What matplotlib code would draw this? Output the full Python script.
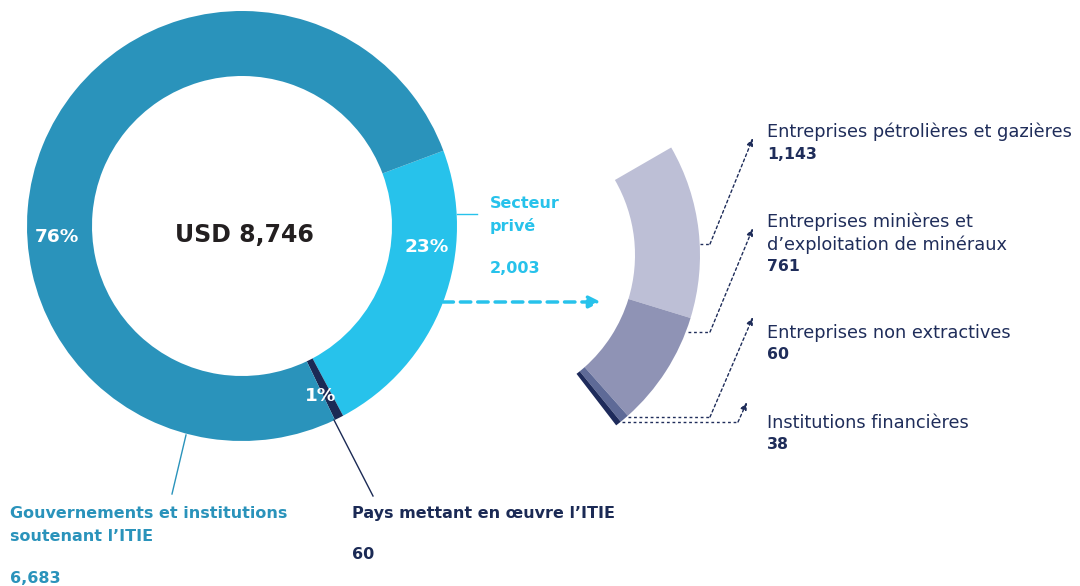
import matplotlib.pyplot as plt

# data
main_labels = ["Secteur privé", "Pays mettant en œuvre l'ITIE", "Gouvernements et institutions soutenant l'ITIE"]
main_values = [2003, 60, 6683]
main_pct = ["23%", "1%", "76%"]
total = 8746

sub_labels = ["Entreprises pétrolières et gazières",
              "Entreprises minières et\nd\u2019exploitation de minéraux",
              "Entreprises non extractives",
              "Institutions financières"]
sub_values = [1143, 761, 60, 38]

# colours
c_gov = "#2A93BB"
c_priv = "#27C2EB"
c_pays = "#1B2A55"
c_navy = "#1F2D5A"
sub_colors = ["#BDBFD6", "#8F93B5", "#5E6A97", "#1E2B5B"]

W, H = 1080, 586
def Y(y):
    return H - y

plt.rcParams['font.family'] = ['DejaVu Sans']

fig = plt.figure(figsize=(10.8, 5.86), dpi=100)
ax = fig.add_axes([0, 0, 1, 1])

# main donut
ax.pie(main_values, colors=[c_priv, c_pays, c_gov], startangle=20.5, counterclock=False,
       center=(242, Y(226)), radius=215, wedgeprops=dict(width=65, linewidth=0))

# exploded private sector breakdown (partial ring, same scale as main donut)
ax.pie([v / total for v in sub_values], normalize=False, colors=sub_colors, startangle=30,
       counterclock=False, center=(485, Y(255)), radius=215, wedgeprops=dict(width=65, linewidth=0))

ax.set_xlim(0, W)
ax.set_ylim(0, H)
ax.set_aspect('equal')
ax.axis('off')

def lines(x, y0, txt, step, **kw):
    for i, ln in enumerate(txt.split("\n")):
        ax.text(x, Y(y0 + step * i), ln, ha="left", va="baseline", **kw)

# percentages and centre total
pct_kw = dict(color="white", fontsize=13.3, fontweight="bold", ha="center", va="baseline")
ax.text(427, Y(252), main_pct[0], **pct_kw)
ax.text(321, Y(401), main_pct[1], **pct_kw)
ax.text(57, Y(242), main_pct[2], **pct_kw)
ax.text(244, Y(242), "USD {:,}".format(total), color="#231F20", fontsize=17, fontweight="bold",
        ha="center", va="baseline")

# leader lines of the main donut
ax.plot([457, 477], [Y(214), Y(214)], color=c_priv, lw=1)
ax.plot([186, 172], [Y(435), Y(494)], color=c_gov, lw=1)
ax.plot([334, 373], [Y(420), Y(496)], color=c_pays, lw=1)

bold = dict(fontsize=11.5, fontweight="bold")
lines(490, 208, "Secteur\nprivé", 23, color=c_priv, **bold)
lines(490, 273, "{:,}".format(main_values[0]), 0, color=c_priv, **bold)

lines(10, 518, "Gouvernements et institutions\nsoutenant l\u2019ITIE", 23, color=c_gov, **bold)
lines(10, 583, "{:,}".format(main_values[2]), 0, color=c_gov, **bold)
lines(352, 518, "Pays mettant en œuvre l\u2019ITIE", 0, color=c_pays, **bold)
lines(352, 559, "{:,}".format(main_values[1]), 0, color=c_pays, **bold)

# cyan dashed arrow towards the breakdown
ax.annotate("", xy=(601, Y(302)), xytext=(443, Y(302)),
            arrowprops=dict(arrowstyle="-|>,head_length=0.7,head_width=0.35", color=c_priv, lw=2.5,
                            linestyle=(0, (3, 2)), shrinkA=0, shrinkB=0))

# dotted connectors to the breakdown labels
connectors = [
    [(700, 244), (710, 244), (753, 138)],
    [(688, 332), (710, 332), (753, 228)],
    [(628, 417), (710, 417), (753, 317)],
    [(622, 422), (738, 422), (747, 402)],
]
for pts in connectors:
    xs = [p[0] for p in pts]
    ys = [Y(p[1]) for p in pts]
    ax.plot(xs[:2], ys[:2], color=c_navy, lw=1, linestyle=(0, (2, 2)))
    ax.annotate("", xy=(xs[2], ys[2]), xytext=(xs[1], ys[1]),
                arrowprops=dict(arrowstyle="-|>,head_length=0.45,head_width=0.18", color=c_navy, lw=1,
                                linestyle=(0, (2, 2)), shrinkA=0, shrinkB=0))

# breakdown labels
name_base = [137, 227, 338, 428]
value_base = [159, 271, 359, 449]
for lab, v, yb, yv in zip(sub_labels, sub_values, name_base, value_base):
    lines(767, yb, lab, 22.5, color=c_navy, fontsize=12.8)
    lines(767, yv, "{:,}".format(v), 0, color=c_navy, fontsize=11.3, fontweight="bold")

fig.savefig("out.png", dpi=100)
